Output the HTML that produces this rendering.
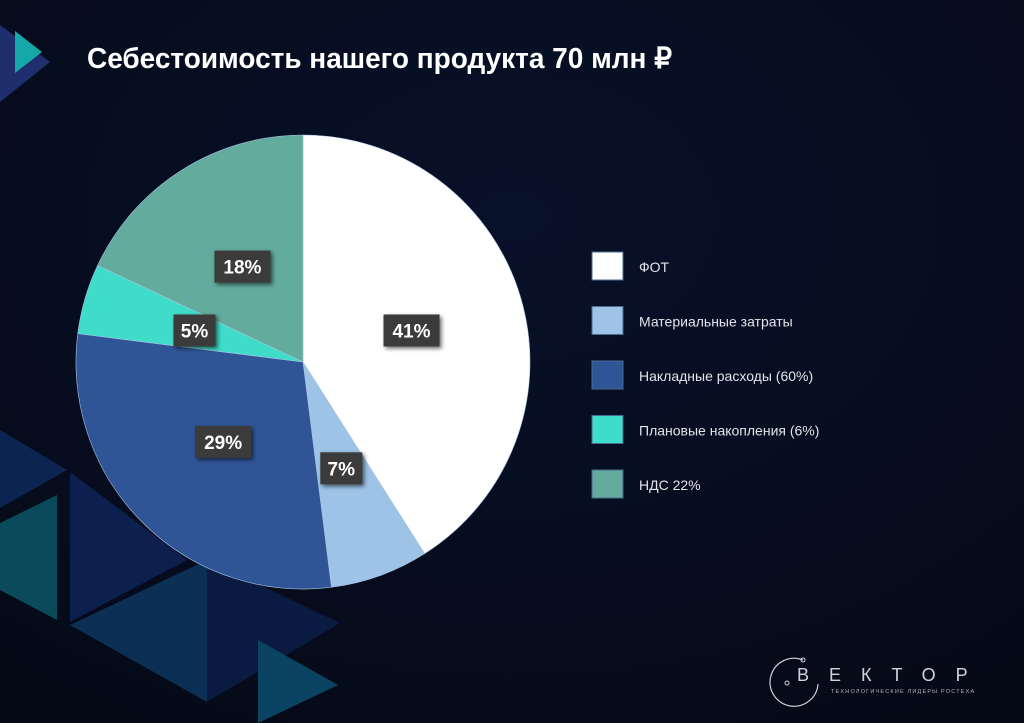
<!DOCTYPE html>
<html><head><meta charset="utf-8"><style>
html,body{margin:0;padding:0;}
body{width:1024px;height:723px;overflow:hidden;background:#060b1a;font-family:"Liberation Sans","Noto Sans CJK SC",sans-serif;position:relative;}
svg{position:absolute;left:0;top:0;}
</style></head><body>
<svg id="chart" width="1024" height="723" viewBox="0 0 1024 723">
  <defs>
    <radialGradient id="bg" cx="0.5" cy="0.3" r="0.8">
      <stop offset="0" stop-color="#08112a"/><stop offset="1" stop-color="#050a17"/>
    </radialGradient>
    <filter id="sh" x="-20%" y="-20%" width="150%" height="150%"><feDropShadow dx="2" dy="2" stdDeviation="2" flood-color="#000" flood-opacity="0.6"/></filter>
  </defs>
  <rect width="1024" height="723" fill="url(#bg)"/>
  <g>
    <polygon points="0,25 50,62 0,102" fill="#1f2f6e"/>
    <polygon points="15,31 42,52 15,73" fill="#14a8a8"/>
  </g>
  <g>
    <polygon points="0,430 67,470 0,508" fill="#0c2452"/>
    <polygon points="0,523 57,495 57,620 0,590" fill="#0a4a5a"/>
    <polygon points="70,472 70,622 187,560" fill="#0c1f4e"/>
    <polygon points="70,625 207,560 207,702" fill="#0b2f55"/>
    <polygon points="207,560 340,623 207,702" fill="#0b1a40"/>
    <polygon points="258,640 338,685 258,723" fill="#0b4462"/>
  </g>
  <text x="87" y="68" font-size="29" fill="#ffffff" font-weight="bold" textLength="585" lengthAdjust="spacingAndGlyphs">Себестоимость нашего продукта 70 млн  ₽</text>
  <g id="pie"></g>
  <g id="labels"></g>
  <g id="legend"></g>
  <g>
    <path d="M 803 660 A 24 24 0 1 0 818 684" fill="none" stroke="#cfd4dc" stroke-width="1.2"/>
    <circle cx="803" cy="660" r="2" fill="none" stroke="#cfd4dc"/>
    <circle cx="787" cy="683" r="2" fill="none" stroke="#cfd4dc"/>
    <text x="797" y="681" font-size="18" fill="#d0d4dc" letter-spacing="20">ВЕКТОР</text>
    <text x="831" y="693" font-size="5.5" fill="#b0b6c0" letter-spacing="1.2">ТЕХНОЛОГИЧЕСКИЕ ЛИДЕРЫ РОСТЕХА</text>
  </g>
</svg>
<script>
const categories = ["ФОТ","Материальные затраты","Накладные расходы (60%)","Плановые накопления (6%)","НДС 22%"];
const values = [41,7,29,5,18];
const valueLabels = ["41%","7%","29%","5%","18%"];
const colors = ["#ffffff","#9dc3e6","#2f5597","#3fdcca","#62ab9d"];

const NS="http://www.w3.org/2000/svg";
const cx=303, cy=362, R=227, LR=113;
const total=values.reduce((a,b)=>a+b,0);
function pt(frac,r){const a=frac*2*Math.PI;return [cx+r*Math.sin(a), cy-r*Math.cos(a)];}
const pie=document.getElementById('pie'), labels=document.getElementById('labels'), legend=document.getElementById('legend');
let acc=0;
values.forEach((v,i)=>{
  const f0=acc/total, f1=(acc+v)/total; acc+=v;
  const p0=pt(f0,R), p1=pt(f1,R);
  const large=(f1-f0)>0.5?1:0;
  const path=document.createElementNS(NS,'path');
  path.setAttribute('d',`M${cx},${cy} L${p0[0]},${p0[1]} A${R},${R} 0 ${large} 1 ${p1[0]},${p1[1]} Z`);
  path.setAttribute('fill',colors[i]);
  path.setAttribute('stroke','#a9c4e4');
  path.setAttribute('stroke-width','0.6');
  
  
  pie.appendChild(path);
  const m=pt((f0+f1)/2,LR);
  const g=document.createElementNS(NS,'g');
  
  
  const w=valueLabels[i].length>2?56:42;
  const r=document.createElementNS(NS,'rect');
  r.setAttribute('x',m[0]-w/2);r.setAttribute('y',m[1]-16);r.setAttribute('width',w);r.setAttribute('height',32);
  r.setAttribute('fill','#3b3b3b');r.setAttribute('filter','url(#sh)');
  g.appendChild(r);
  const t=document.createElementNS(NS,'text');
  t.setAttribute('x',m[0]);t.setAttribute('y',m[1]+7);t.setAttribute('text-anchor','middle');
  t.setAttribute('font-size','19');t.setAttribute('font-weight','bold');t.setAttribute('fill','#ffffff');
  t.textContent=valueLabels[i];
  g.appendChild(t);
  labels.appendChild(g);
  const lg=document.createElementNS(NS,'g');
  
  
  const y=252+i*54.5;
  const s=document.createElementNS(NS,'rect');
  s.setAttribute('x',592);s.setAttribute('y',y);s.setAttribute('width',31);s.setAttribute('height',28);
  s.setAttribute('fill',colors[i]);s.setAttribute('stroke','#4a6a90');s.setAttribute('stroke-width','1');
  lg.appendChild(s);
  const lt=document.createElementNS(NS,'text');
  lt.setAttribute('x',639);lt.setAttribute('y',y+20);lt.setAttribute('font-size','14');lt.setAttribute('fill','#e2e4ea');
  lt.textContent=categories[i];
  lg.appendChild(lt);
  legend.appendChild(lg);
});
</script>
</body></html>
